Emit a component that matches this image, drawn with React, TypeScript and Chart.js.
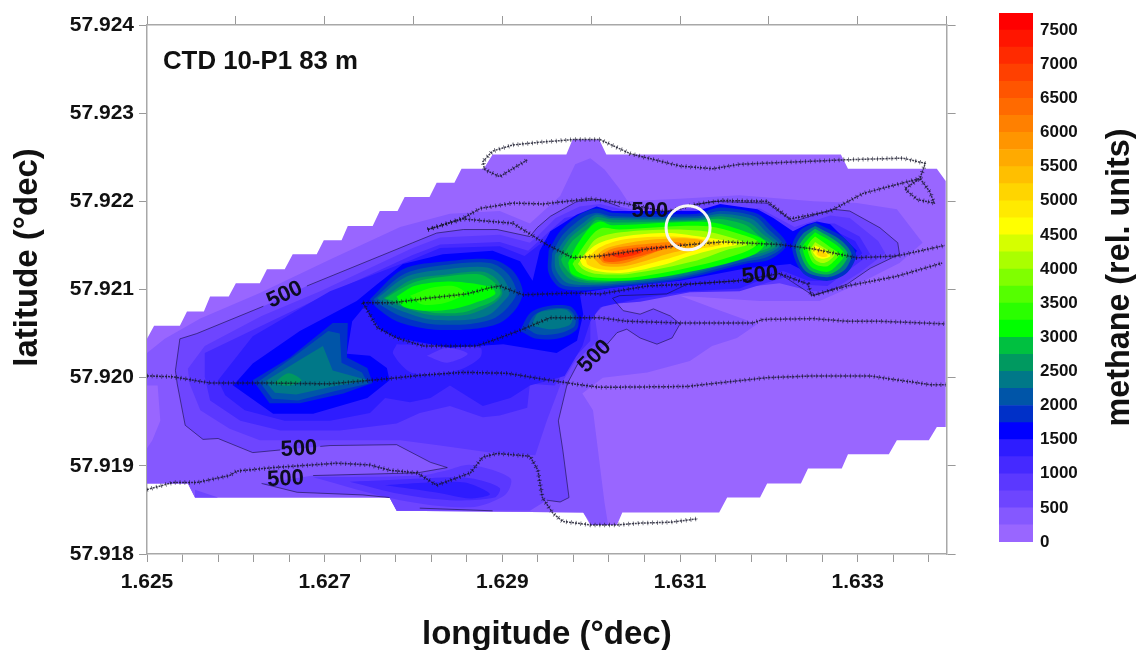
import React, { useEffect, useRef } from "react";
import { Chart, registerables } from "chart.js";

Chart.register(...registerables);

// ---- axes ----
const LON_MIN = 1.625;
const LON_MAX = 1.634;
const LAT_MIN = 57.918;
const LAT_MAX = 57.924;
const lonLabelled = [1.625, 1.627, 1.629, 1.631, 1.633];
const lonTicksBottom = [1.625, 1.6254, 1.6258, 1.6262, 1.6266, 1.627, 1.6274, 1.6278, 1.6282, 1.6286, 1.629, 1.6294, 1.6298, 1.6302, 1.6306, 1.631, 1.6314, 1.6318, 1.6322, 1.6326, 1.633, 1.6334, 1.6338];
const lonTicksTop = [1.625, 1.626, 1.627, 1.628, 1.629, 1.63, 1.631, 1.632, 1.633, 1.634];
const latTicks = [57.918, 57.919, 57.92, 57.921, 57.922, 57.923, 57.924];

// ---- colour bar ----
const barTicks = [0, 500, 1000, 1500, 2000, 2500, 3000, 3500, 4000, 4500, 5000, 5500, 6000, 6500, 7000, 7500];
const barMax = 7750;
const barStep = 250;
const bandColors = [
  "#9966ff", "#8558ff", "#6e45ff", "#5b38ff", "#4529ff", "#2e1cff", "#0000ff", "#0030c8",
  "#0055a8", "#007888", "#009960", "#00c040", "#00ff00", "#2aff00", "#55ff00", "#80ff00",
  "#aaff00", "#d5ff00", "#ffff00", "#ffea00", "#ffd500", "#ffbf00", "#ffaa00", "#ff9500",
  "#ff8000", "#ff6a00", "#ff5500", "#ff4000", "#ff2a00", "#ff1500", "#ff0000",
];

// ---- contour rings: flat pairs, east / north of (1.625, 57.918) in 1e-5 degrees ----
const hull = [0,244, 8,259, 37,259, 45,275, 64,275, 71,292, 92,292, 100,307, 127,307, 135,323, 155,323, 164,340, 191,340, 199,356, 219,356, 226,372, 254,372, 262,389, 282,389, 290,405, 318,405, 326,421, 346,421, 354,437, 379,437, 389,453, 472,453, 479,470, 509,470, 517,453, 781,453, 789,437, 889,437, 899,423, 899,144, 889,144, 880,129, 844,129, 835,113, 789,113, 782,97, 744,97, 736,80, 698,80, 690,64, 653,64, 644,47, 535,47, 529,33, 499,33, 491,47, 281,49, 273,64, 54,64, 46,80, 0,80];
const ring250 = [0,228, 20,244, 60,267, 127,296, 206,334, 285,371, 341,386, 397,389, 431,375, 465,406, 482,442, 499,449, 515,436, 532,414, 541,400, 600,403, 667,407, 750,400, 799,398, 844,391, 873,353, 847,330, 802,307, 757,287, 690,287, 600,293, 637,279, 687,261, 664,245, 636,236, 611,219, 563,206, 513,200, 490,182, 502,163, 515,58, 519,33, 501,33, 491,47, 281,49, 273,64, 54,64, 46,80, 0,80, 0,120, 6,129, 15,151, 12,191, 0,191];
const ring500 = [37,244, 56,250, 131,281, 180,304, 299,353, 326,364, 356,368, 394,368, 431,360, 439,370, 454,383, 484,400, 510,402, 532,394, 566,386, 585,389, 637,400, 698,398, 727,377, 772,391, 791,389, 825,370, 845,353, 847,340, 814,324, 788,306, 750,293, 712,318, 667,310, 608,306, 585,295, 532,293, 524,290, 536,276, 555,272, 570,278, 589,270, 600,261, 591,245, 574,238, 555,245, 540,255, 529,251, 518,238, 485,216, 473,193, 463,151, 468,118, 475,64, 465,59, 450,61, 431,49, 281,49, 273,64, 243,67, 169,70, 129,80, 187,89, 304,92, 338,98, 319,104, 281,124, 206,123, 119,115, 80,131, 63,130, 43,146, 34,193, 32,208];
const ring500Corner = [54,73, 80,64, 54,64];
const ring750 = [46,210, 65,236, 129,270, 195,298, 299,347, 330,359, 397,362, 431,353, 442,363, 460,381, 487,394, 510,397, 555,386, 622,392, 690,392, 729,371, 769,384, 791,381, 823,355, 831,341, 802,319, 769,298, 748,298, 712,307, 667,302, 611,302, 555,289, 510,287, 504,270, 508,242, 482,219, 465,191, 450,151, 437,112, 386,115, 330,123, 285,129, 206,129, 127,129, 93,142, 60,163, 48,193];
const ring750Lobe = [187,87, 307,89, 338,95, 364,101, 409,86, 403,67, 364,53, 285,61];
const ring1000 = [65,201, 65,228, 129,259, 206,296, 299,339, 330,351, 397,354, 429,344, 451,364, 470,381, 493,386, 513,386, 555,375, 622,382, 690,382, 727,359, 748,375, 774,375, 802,360, 814,340, 791,323, 766,304, 746,305, 718,314, 667,298, 611,297, 555,286, 515,283, 499,267, 499,242, 476,217, 459,191, 431,193, 428,166, 397,157, 378,155, 341,168, 307,160, 281,148, 217,140, 150,140, 105,151, 71,174];
const ring1000Lobe = [228,82, 318,86, 364,86, 397,75, 391,64, 341,61, 285,68];
const ring1250 = [80,197, 119,247, 206,298, 299,334, 330,347, 397,349, 425,338, 451,358, 473,375, 493,382, 513,382, 555,371, 622,376, 690,377, 726,355, 748,368, 771,368, 797,355, 805,341, 786,323, 766,310, 744,310, 716,321, 667,301, 611,298, 555,290, 510,280, 499,264, 490,236, 470,202, 431,191, 409,177, 378,168, 341,191, 319,177, 296,172, 268,177, 251,160, 206,151, 155,151, 110,163, 88,180];
const ring1250Lobe = [268,78, 318,81, 358,81, 386,68, 364,63, 324,70];
const islandLow1 = [281,238, 375,234, 375,223, 349,208, 299,205, 277,227];
const islandLow2 = [315,225, 338,234, 361,227, 338,217];
const ring1500 = [97,191, 119,216, 172,253, 236,287, 259,306, 288,329, 333,340, 389,344, 420,332, 434,310, 442,344, 454,366, 484,385, 506,394, 524,389, 619,389, 645,397, 687,391, 705,381, 727,366, 743,374, 754,377, 769,374, 799,344, 788,324, 765,310, 746,318, 724,329, 675,324, 600,310, 524,302, 487,296, 491,272, 484,242, 461,228, 401,238, 341,234, 281,245, 262,255, 245,281, 231,264, 225,227, 251,225, 270,211, 273,197, 248,177, 187,159, 142,159];

const west1750 = [119,197, 161,223, 209,262, 226,262, 225,223, 248,211, 254,194, 221,182, 172,171, 138,171];
const west2000 = [126,196, 164,223, 204,253, 217,250, 219,217, 242,206, 249,193, 212,185, 170,174, 141,176];
const west2250 = [133,196, 170,219, 198,236, 209,208, 249,197, 209,190, 168,181, 144,183];
const west2500 = [142,193, 159,205, 174,197, 161,191];

const mid1750 = [251,289, 288,323, 338,332, 389,334, 412,321, 423,298, 416,279, 397,262, 364,255, 319,255, 281,264, 259,279];
const mid2000 = [255,289, 290,318, 338,328, 386,330, 406,318, 416,297, 408,282, 392,268, 364,261, 319,261, 285,270, 265,281];
const mid2250 = [259,290, 293,315, 338,323, 383,325, 400,314, 408,296, 400,285, 386,272, 364,266, 319,266, 288,275, 268,284];
const mid2500 = [266,290, 298,311, 338,317, 378,320, 394,311, 400,296, 394,287, 379,278, 358,271, 319,271, 290,279, 273,286];
const mid2750 = [268,290, 300,308, 338,315, 375,317, 392,307, 398,296, 390,287, 376,281, 355,274, 320,274, 292,282, 276,287];
const mid3000 = [281,292, 301,304, 338,309, 365,307, 388,302, 392,295, 375,287, 345,278, 311,276, 288,281];
const mid3250 = [296,293, 320,302, 345,304, 358,296, 336,285, 310,283];

const small1750 = [420,253, 431,273, 450,281, 476,281, 485,270, 484,255, 465,245, 439,244];
const small2000 = [427,256, 436,271, 452,278, 474,278, 482,269, 481,258, 463,250, 440,249];
const small2250 = [433,259, 440,273, 457,277, 472,277, 479,269, 476,260, 456,255];

const hot1750 = [452,344, 465,366, 487,385, 506,392, 524,387, 566,386, 619,386, 645,393, 687,386, 703,372, 720,351, 701,334, 673,329, 600,311, 532,303, 493,299, 465,302, 452,319];
const hot2000 = [456,341, 468,362, 491,382, 506,387, 524,383, 619,383, 645,389, 684,383, 700,368, 716,350, 698,337, 670,331, 600,313, 532,305, 495,303, 468,305, 456,321];
const hot2250 = [459,339, 472,359, 493,377, 506,385, 524,381, 619,381, 645,386, 681,380, 697,365, 712,350, 694,339, 667,333, 600,315, 532,307, 497,305, 472,308, 460,323];
const hot2500 = [463,337, 475,357, 495,374, 506,382, 524,379, 619,379, 645,383, 678,376, 693,363, 708,350, 691,341, 665,336, 600,317, 532,309, 500,307, 476,312, 465,325];
const hot2750 = [466,334, 478,354, 497,370, 506,379, 524,376, 619,378, 645,380, 674,373, 690,360, 703,350, 688,343, 662,338, 600,319, 532,310, 502,309, 481,314, 469,327];
const hot3000 = [474,330, 483,349, 499,371, 510,377, 523,373, 592,376, 637,376, 675,365, 696,354, 684,340, 630,324, 555,311, 499,311, 478,318];
const hot3500 = [479,329, 490,347, 503,364, 513,370, 532,368, 600,372, 637,371, 667,363, 688,354, 676,344, 628,329, 549,314, 501,314, 485,320];
const hot4000 = [485,329, 495,344, 505,357, 527,364, 583,368, 628,366, 660,358, 676,351, 653,345, 619,333, 544,318, 504,318, 491,323];
const hot4500 = [487,334, 506,351, 536,360, 585,364, 622,360, 653,355, 664,351, 645,347, 611,338, 585,329, 536,319, 506,321, 491,327];
const hot5000 = [494,334, 510,348, 538,357, 589,360, 625,357, 647,351, 622,346, 583,334, 535,322, 510,323, 496,328];
const hot5500 = [502,336, 518,347, 555,355, 603,358, 626,355, 619,349, 585,340, 540,327, 513,327];
const hot6000 = [508,337, 523,346, 555,351, 594,354, 606,351, 577,344, 538,330, 515,330];
const hot6500 = [512,338, 532,345, 570,349, 589,349, 566,341, 532,332, 515,332];
const hot7000 = [521,339, 540,342, 558,345, 555,341, 532,336];

const east1750 = [752,376, 784,359, 798,340, 788,319, 766,310, 739,318, 726,347, 735,367];
const east2250 = [752,372, 781,356, 793,340, 785,322, 766,314, 741,321, 730,347, 738,363];
const east2750 = [752,369, 777,354, 789,340, 781,325, 766,317, 745,323, 734,347, 741,360];
const east3000 = [752,365, 774,352, 785,340, 777,328, 766,320, 747,326, 738,347, 744,357];
const east3500 = [752,360, 769,348, 779,340, 772,331, 764,326, 750,330, 743,347, 746,354];
const east4000 = [752,354, 766,345, 774,340, 768,333, 760,330, 752,334, 747,345];
const east4500 = [752,350, 762,345, 769,338, 762,335, 754,337, 749,344];
const east5000 = [754,346, 762,343, 766,338, 760,337, 754,340];

// [contour level, ring, smoothed]
const filledContours: [number, number[], boolean][] = [
  [0, hull, false], [250, ring250, false], [500, ring500, false], [500, ring500Corner, false],
  [750, ring750, false], [750, ring750Lobe, true], [1000, ring1000, false], [1000, ring1000Lobe, true],
  [1250, ring1250, false], [1250, ring1250Lobe, true], [1000, islandLow1, true], [750, islandLow2, true],
  [1500, ring1500, false],
  [1750, west1750, false], [2000, west2000, false], [2250, west2250, false], [2500, west2500, true],
  [1750, mid1750, true], [2000, mid2000, true], [2250, mid2250, true], [2500, mid2500, true], [2750, mid2750, true], [3000, mid3000, true], [3250, mid3250, true],
  [1750, small1750, true], [2000, small2000, true], [2250, small2250, true],
  [1750, hot1750, true], [2000, hot2000, true], [2250, hot2250, true], [2500, hot2500, true], [2750, hot2750, true], [3000, hot3000, true],
  [3500, hot3500, true], [4000, hot4000, true], [4500, hot4500, true], [5000, hot5000, true], [5500, hot5500, true], [6000, hot6000, true], [6500, hot6500, true], [7000, hot7000, true],
  [1750, east1750, true], [2250, east2250, true], [2750, east2750, true], [3000, east3000, true], [3500, east3500, true], [4000, east4000, true], [4500, east4500, true], [5000, east5000, true],
];

// thin 500 contour, broken where its labels sit
const contour500Lines = [
  [131,281, 56,250, 37,244, 32,208, 34,193, 43,146, 63,130, 80,131, 119,115, 150,118],
  [195,122, 206,123, 281,124, 319,104, 338,98, 304,92, 187,89],
  [129,80, 169,70, 243,67, 273,64],
  [180,304, 299,353, 326,364, 356,368, 394,368, 431,360, 439,370, 454,383, 484,400, 510,402, 532,394],
  [585,389, 637,400, 698,398, 727,377, 772,391, 791,389, 825,370, 845,353, 847,340, 814,324, 788,306, 750,293, 712,318],
  [667,310, 608,306, 585,295, 532,293, 524,290, 536,276, 555,272, 570,278, 589,270, 600,261, 591,245, 574,238, 555,245, 540,255, 529,251, 518,238],
  [485,216, 473,193, 463,151, 468,118, 475,64, 465,59, 450,61],
  [307,52, 389,49],
];

// ship track
const trackA = [0,202, 29,201, 71,194, 131,194, 206,193, 273,199, 311,203, 356,206, 405,205, 454,197, 487,192, 510,189, 608,190, 634,193, 698,200, 750,202, 814,202, 840,198, 862,195, 881,192, 899,192];
const trackB = [0,73, 18,78, 29,81, 56,81, 93,89, 101,94, 142,98, 214,103, 251,101, 273,95, 304,92, 326,78, 364,92, 378,110, 394,114, 431,111, 440,95, 445,64, 457,46, 468,37, 499,33, 529,33, 555,35, 589,36, 620,40];
const trackC = [243,285, 259,257, 281,245, 311,236, 371,236, 394,244, 423,255, 454,268, 510,268, 540,264, 600,262, 682,262, 693,266, 750,267, 788,264, 825,264, 898,261];
const trackD = [243,285, 277,285, 315,290, 360,295, 386,302, 397,304, 423,294, 479,296, 510,295, 563,304, 608,306, 667,310, 712,318, 744,306, 748,293, 788,304, 844,315, 895,330];
const trackE = [316,368, 356,381, 375,392, 412,398, 446,397, 499,403, 536,398, 585,388, 619,397, 648,401, 698,400, 724,380, 769,389, 806,409, 870,426, 881,411, 886,398, 867,402, 853,414, 870,426, 876,443, 851,449, 783,447, 667,442, 637,437, 600,440, 544,454, 510,470, 479,470, 442,467, 412,464, 389,457, 378,445, 380,436, 397,428, 428,447];
const trackF = [316,368, 356,380, 412,375, 450,351, 479,336, 510,338, 563,346, 600,350, 648,354, 712,351, 750,346, 799,336, 844,338, 898,350];
const tracks = [trackA, trackB, trackC, trackD, trackE, trackF];

const samplingSite = [609, 370];

// text placed in the plot: [text, east, north, rotation in degrees]
const contourLabels: [string, number, number, number][] = [
  ["500", 155, 294, -25],
  ["500", 566, 389, 0],
  ["500", 690, 316, -6],
  ["500", 504, 224, -45],
  ["500", 171, 119, -3],
  ["500", 156, 85, -3],
];
const panelTitle = "CTD 10-P1 83 m";
const panelTitleAt = [18, 558];

const xTitle = "longitude (°dec)";
const yTitle = "       latitude (°dec)";
const barTitle = "methane (rel. units)";

const FONT = '"Liberation Sans", Arial, sans-serif';
const toPts = (flat: number[]) => {
  const out: { x: number; y: number }[] = [];
  for (let i = 0; i < flat.length; i += 2) {
    out.push({ x: LON_MIN + flat[i] / 1e5, y: LAT_MIN + flat[i + 1] / 1e5 });
  }
  return out;
};
const closed = (flat: number[]) => {
  const p = toPts(flat);
  p.push(p[0]);
  return p;
};

const fixedTicks = (values: number[]) => (s: any) => {
  s.ticks = values.map((value) => ({ value }));
};

export default function App() {
  const mapRef = useRef<HTMLCanvasElement>(null);
  const barRef = useRef<HTMLCanvasElement>(null);

  useEffect(() => {
    const datasets: any[] = [];
    let order = 0;
    filledContours.forEach(([level, ring, smooth]) => {
      const c = bandColors[level / barStep];
      datasets.push({
        data: closed(ring), showLine: true, fill: "shape", backgroundColor: c, borderColor: c,
        borderWidth: 0, pointRadius: 0, tension: smooth ? 0.3 : 0, order: --order,
      });
    });
    contour500Lines.forEach((line) => {
      datasets.push({
        data: toPts(line), showLine: true, fill: false, borderColor: "rgba(20,15,60,0.85)",
        borderWidth: 0.7, pointRadius: 0, order: --order,
      });
    });
    tracks.forEach((t) => {
      datasets.push({
        data: toPts(t), showLine: true, fill: false, borderColor: "rgba(20,20,40,0.8)",
        borderWidth: 1.5, borderDash: [2, 1], pointRadius: 0, order: --order,
      });
      datasets.push({
        data: toPts(t), showLine: true, fill: false, borderColor: "rgba(20,20,40,0.7)",
        borderWidth: 4.5, borderDash: [0.8, 4], pointRadius: 0, order: --order,
      });
    });
    datasets.push({
      data: toPts(samplingSite), showLine: false, pointRadius: 22, pointStyle: "circle",
      backgroundColor: "rgba(0,0,0,0)", borderColor: "#f6f6f6", pointBorderWidth: 3,
      borderWidth: 3, order: --order,
    });

    const textPlugin = {
      id: "plotText",
      afterDatasetsDraw(chart: any) {
        const { ctx, scales } = chart;
        ctx.save();
        ctx.fillStyle = "#0c0c20";
        ctx.textAlign = "center";
        ctx.textBaseline = "middle";
        ctx.font = `bold 22px ${FONT}`;
        contourLabels.forEach(([t, e, n, rot]) => {
          ctx.save();
          ctx.translate(scales.x.getPixelForValue(LON_MIN + e / 1e5), scales.y.getPixelForValue(LAT_MIN + n / 1e5));
          ctx.rotate((rot * Math.PI) / 180);
          ctx.fillText(t, 0, 0);
          ctx.restore();
        });
        ctx.fillStyle = "#111";
        ctx.textAlign = "left";
        ctx.font = `bold 25.8px ${FONT}`;
        ctx.fillText(
          panelTitle,
          scales.x.getPixelForValue(LON_MIN + panelTitleAt[0] / 1e5),
          scales.y.getPixelForValue(LAT_MIN + panelTitleAt[1] / 1e5),
        );
        ctx.restore();
      },
    };

    const axisBase = {
      border: { color: "#a8a8a8", width: 1.5 },
    };
    const map = new Chart(mapRef.current!, {
      type: "scatter",
      data: { datasets },
      plugins: [textPlugin],
      options: {
        responsive: false,
        animation: false,
        parsing: false,
        events: [],
        layout: { padding: 0 },
        plugins: { legend: { display: false }, tooltip: { enabled: false }, title: { display: false } },
        scales: {
          x: {
            type: "linear", position: "bottom", min: LON_MIN, max: LON_MAX, ...axisBase,
            afterBuildTicks: fixedTicks(lonTicksBottom),
            afterFit: (s: any) => { s.height = 96; },
            grid: { drawOnChartArea: false, drawTicks: true, color: "#999", tickLength: 8 },
            ticks: {
              autoSkip: false, maxRotation: 0, padding: 8, color: "#111", font: { family: FONT, size: 21, weight: "bold" },
              callback: (v: any) => (lonLabelled.some((m) => Math.abs(m - v) < 1e-6) ? Number(v).toFixed(3) : ""),
            },
            title: { display: true, text: xTitle, color: "#111", font: { family: FONT, size: 33, weight: "bold" }, padding: { top: 0, bottom: -5 } },
          },
          x2: {
            type: "linear", position: "top", min: LON_MIN, max: LON_MAX, ...axisBase,
            afterBuildTicks: fixedTicks(lonTicksTop),
            afterFit: (s: any) => { s.height = 23; },
            grid: { drawOnChartArea: false, drawTicks: true, color: "#999", tickLength: 9 },
            ticks: { display: false },
          },
          y: {
            type: "linear", position: "left", min: LAT_MIN, max: LAT_MAX, ...axisBase,
            afterBuildTicks: fixedTicks(latTicks),
            afterFit: (s: any) => { s.width = 147; },
            grid: { drawOnChartArea: false, drawTicks: true, color: "#999", tickLength: 8 },
            ticks: {
              autoSkip: false, padding: 5, color: "#111", font: { family: FONT, size: 21, weight: "bold" },
              callback: (v: any) => Number(v).toFixed(3),
            },
            title: { display: true, text: yTitle, color: "#111", font: { family: FONT, size: 33, weight: "bold" }, padding: { top: 8, bottom: 0 } },
          },
          y2: {
            type: "linear", position: "right", min: LAT_MIN, max: LAT_MAX, ...axisBase,
            afterBuildTicks: fixedTicks(latTicks),
            afterFit: (s: any) => { s.width = 196.4; },
            grid: { drawOnChartArea: false, drawTicks: true, color: "#999", tickLength: 9 },
            ticks: { display: false },
          },
        },
      } as any,
    });

    const barDatasets = bandColors.map((c, i) => ({
      data: [[i * barStep, (i + 1) * barStep]],
      backgroundColor: c,
      borderWidth: 0,
      barPercentage: 1,
      categoryPercentage: 1,
      grouped: false,
    }));
    const barTitlePlugin = {
      id: "barTitle",
      afterDraw(chart: any) {
        const { ctx, chartArea } = chart;
        ctx.save();
        ctx.translate(130, (chartArea.top + chartArea.bottom) / 2);
        ctx.rotate(-Math.PI / 2);
        ctx.textAlign = "center";
        ctx.textBaseline = "middle";
        ctx.fillStyle = "#111";
        ctx.font = `bold 32.3px ${FONT}`;
        ctx.fillText(barTitle, 0, 0);
        ctx.restore();
      },
    };
    const bar = new Chart(barRef.current!, {
      type: "bar",
      data: { labels: ["methane"], datasets: barDatasets as any },
      plugins: [barTitlePlugin],
      options: {
        responsive: false,
        animation: false,
        events: [],
        layout: { padding: { left: 9, top: 13, bottom: 108, right: 0 } },
        plugins: { legend: { display: false }, tooltip: { enabled: false } },
        scales: {
          x: { display: false, grid: { display: false } },
          y: {
            position: "right", min: 0, max: barMax,
            afterBuildTicks: fixedTicks(barTicks),
            afterFit: (s: any) => { s.width = 110; s.paddingTop = 0; s.paddingBottom = 0; },
            border: { display: false },
            grid: { display: false, drawTicks: false },
            ticks: {
              autoSkip: false, padding: 7, color: "#111",
              font: { family: FONT, size: 17, weight: "bold" },
              callback: (v: any) => String(v),
            },
          },
        },
      } as any,
    });

    return () => {
      map.destroy();
      bar.destroy();
    };
  }, []);

  return (
    <div style={{ position: "absolute", left: 0, top: 0, width: 1143, height: 650, background: "#fff", overflow: "hidden" }}>
      <canvas ref={mapRef} width={1143} height={650} style={{ position: "absolute", left: 0, top: 0, width: 1143, height: 650, filter: "blur(0.5px)" }} />
      <canvas ref={barRef} width={153} height={650} style={{ position: "absolute", left: 990, top: 0, width: 153, height: 650, filter: "blur(0.4px)" }} />
    </div>
  );
}
